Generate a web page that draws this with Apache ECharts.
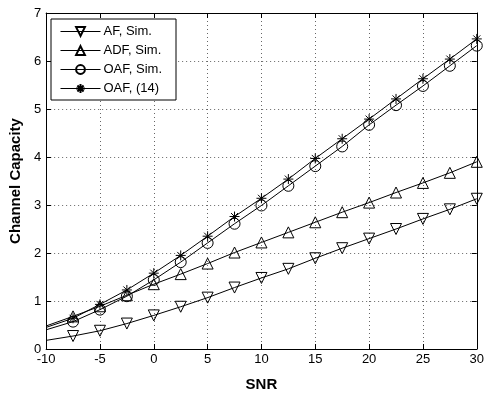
<!DOCTYPE html>
<html>
<head>
<meta charset="utf-8">
<script src="https://cdn.jsdelivr.net/npm/echarts@6/dist/echarts.min.js"></script>
<style>
  html, body { margin: 0; padding: 0; background: #fff; }
  #chart { width: 487px; height: 397px; }
</style>
</head>
<body>
<div id="chart"></div>
<script>
// SNR points (dB); the first point carries the line only, no marker
const snr = [-10, -7.5, -5, -2.5, 0, 2.5, 5, 7.5, 10, 12.5, 15, 17.5, 20, 22.5, 25, 27.5, 30];
const afSim = [0.18, 0.27, 0.38, 0.53, 0.70, 0.88, 1.07, 1.28, 1.48, 1.67, 1.89, 2.10, 2.30, 2.50, 2.71, 2.91, 3.13];
const adfSim = [0.48, 0.68, 0.89, 1.12, 1.35, 1.56, 1.78, 2.01, 2.22, 2.43, 2.64, 2.85, 3.05, 3.26, 3.46, 3.67, 3.90];
const oafSim = [0.40, 0.57, 0.82, 1.10, 1.44, 1.81, 2.21, 2.61, 2.99, 3.40, 3.81, 4.22, 4.67, 5.08, 5.48, 5.90, 6.32];
const oafEq14 = [0.45, 0.64, 0.93, 1.23, 1.58, 1.95, 2.35, 2.76, 3.14, 3.54, 3.97, 4.38, 4.79, 5.21, 5.63, 6.04, 6.46];
const xTicks = [-10, -5, 0, 5, 10, 15, 20, 25, 30];
const yTicks = [0, 1, 2, 3, 4, 5, 6, 7];

const FONT = '"Liberation Sans", Arial, sans-serif';
const STAR = 'path://M0,-1L0,1M-1,0L1,0M-0.7,-0.7L0.7,0.7M-0.7,0.7L0.7,-0.7';

function mkSeries(name, vals, symbol, size, rotate) {
    return {
        name: name,
        type: 'line',
        data: snr.map((x, i) => ({
            value: [x, vals[i]],
            symbol: i === 0 ? 'none' : symbol
        })),
        symbol: symbol,
        symbolSize: size,
        symbolRotate: rotate || 0,
        showSymbol: true,
        lineStyle: { color: '#000', width: 1 },
        itemStyle: { color: 'transparent', borderColor: '#000', borderWidth: 1 },
        emphasis: { disabled: true },
        animation: false
    };
}

const chart = echarts.init(document.getElementById('chart'));
const axisLine = { show: true, onZero: false, lineStyle: { color: '#000', width: 1 } };
const axisTick = { show: true, inside: true, length: 5, lineStyle: { color: '#000' } };
const gridLine = { show: true, lineStyle: { color: '#666', type: [1, 3], width: 1 } };
const titleStyle = { fontFamily: FONT, fontSize: 15, fontWeight: 'bold', color: '#000' };

const option = {
    backgroundColor: '#fff',
    textStyle: { fontFamily: FONT },
    grid: { left: 44, right: 8, top: 13, bottom: 41, show: false },
    legend: {
        left: 51, top: 19,
        orient: 'vertical',
        itemWidth: 40, itemHeight: 11, itemGap: 6,
        padding: [6, 14, 5, 9],
        borderColor: '#000', borderWidth: 1, borderRadius: 0,
        backgroundColor: '#fff',
        lineStyle: { width: 1, color: '#000' },
        textStyle: { fontFamily: FONT, fontSize: 13, color: '#000', padding: [0, 0, 0, -2] },
        data: ['AF, Sim.', 'ADF, Sim.', 'OAF, Sim.', 'OAF, (14)']
    },
    xAxis: [
        {
            type: 'value', min: -10, max: 30, interval: 5, position: 'bottom',
            name: 'SNR', nameLocation: 'middle', nameGap: 28, nameTextStyle: titleStyle,
            axisLine: axisLine, axisTick: axisTick,
            axisLabel: { color: '#000', fontSize: 13, fontFamily: FONT, margin: 4,
                formatter: v => xTicks.includes(v) ? String(v) : '' },
            splitLine: gridLine
        },
        {
            type: 'value', min: -10, max: 30, interval: 5, position: 'top',
            axisLine: axisLine, axisTick: axisTick,
            axisLabel: { show: false }, splitLine: { show: false }
        }
    ],
    yAxis: [
        {
            type: 'value', min: 0, max: 7, interval: 1, position: 'left',
            name: 'Channel Capacity', nameLocation: 'middle', nameGap: 22, nameTextStyle: titleStyle,
            axisLine: axisLine, axisTick: axisTick,
            axisLabel: { color: '#000', fontSize: 13, fontFamily: FONT, margin: 5,
                formatter: v => yTicks.includes(v) ? String(v) : '' },
            splitLine: gridLine
        },
        {
            type: 'value', min: 0, max: 7, interval: 1, position: 'right',
            axisLine: axisLine, axisTick: axisTick,
            axisLabel: { show: false }, splitLine: { show: false }
        }
    ],
    series: [
        mkSeries('AF, Sim.', afSim, 'triangle', 11, 180),
        mkSeries('ADF, Sim.', adfSim, 'triangle', 11, 0),
        mkSeries('OAF, Sim.', oafSim, 'circle', 11, 0),
        mkSeries('OAF, (14)', oafEq14, STAR, 10, 0)
    ]
};
chart.setOption(option);
</script>
</body>
</html>
